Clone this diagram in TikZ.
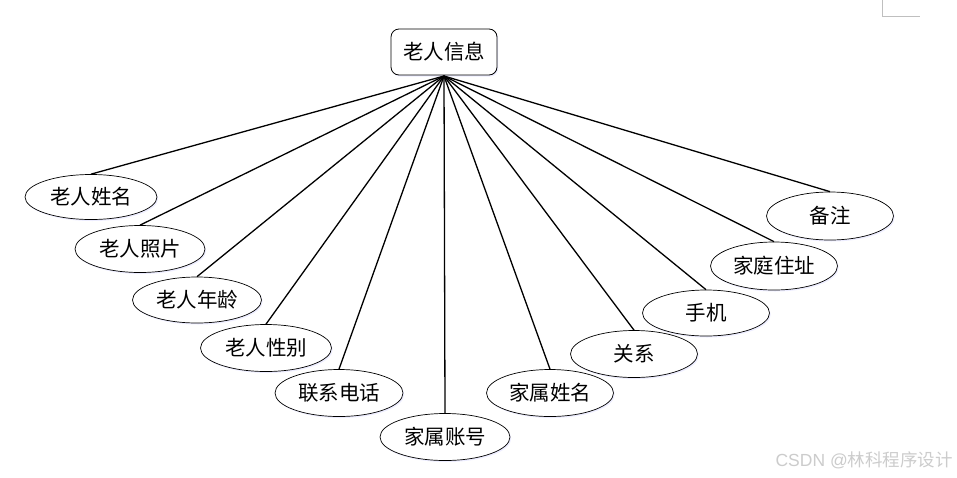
\documentclass[tikz,border=0pt]{standalone}
\usepackage{fontspec}
\newfontfamily\cjk{Noto Sans CJK SC}
\setsansfont{Liberation Sans}
\usetikzlibrary{shapes.geometric,shadows}
\begin{document}
\begin{tikzpicture}[x=1pt,y=-1pt,
  attr/.style={ellipse,draw,line width=0.7pt,minimum width=128pt,minimum height=46pt,inner sep=0pt,fill=white,
    drop shadow={shadow xshift=1.2pt,shadow yshift=-1.5pt,fill=blue!20,opacity=0.35},
    font=\cjk\fontsize{20.5}{24}\selectfont},
  entity/.style={rectangle,rounded corners=8pt,draw,line width=0.8pt,minimum width=106pt,minimum height=46pt,inner sep=0pt,fill=white,
    drop shadow={shadow xshift=1.2pt,shadow yshift=-1.5pt,fill=blue!20,opacity=0.35},
    font=\cjk\fontsize{20.5}{24}\selectfont},
  link/.style={line width=1.3pt}]
\useasboundingbox[fill=white] (0,0) rectangle (957,477);
\node[entity] (e) at (444,52) {老人信息};
\node[attr,minimum width=132pt,minimum height=45pt] (a1) at (91,197) {老人姓名};
\node[attr,minimum width=130pt,minimum height=47pt] (a2) at (140,249) {老人照片};
\node[attr,minimum width=129pt] (a3) at (197,300) {老人年龄};
\node[attr,minimum width=131pt,minimum height=47pt] (a4) at (266,348) {老人性别};
\node[attr,minimum height=47pt] (a5) at (339,393) {联系电话};
\node[attr,minimum width=130pt,minimum height=47pt] (a6) at (445,437) {家属账号};
\node[attr,minimum width=127pt,minimum height=47pt] (a7) at (550,393) {家属姓名};
\node[attr,minimum width=127pt,minimum height=47pt] (a8) at (634,354) {关系};
\node[attr,minimum width=127pt] (a9) at (706,313) {手机};
\node[attr,minimum width=127pt,minimum height=48pt] (a10) at (774,266) {家庭住址};
\node[attr,minimum width=127pt,minimum height=48pt] (a11) at (830,216) {备注};
\coordinate (hub) at (444,76);
\foreach \i in {1,...,11} {\draw[link] (hub) -- (a\i.north);}
\node[font=\sffamily\fontsize{17.5}{20}\selectfont,text=gray!40,anchor=east,inner sep=0pt] (wm) at (953,460) {CSDN @{\cjk 林科程序设计}};
\coordinate (c1) at (882,0);
\coordinate (c2) at (882,16);
\coordinate (c3) at (920,16);
\draw[gray!50,line width=0.7pt] (c1) -- (c2) -- (c3);
\end{tikzpicture}
\end{document}
